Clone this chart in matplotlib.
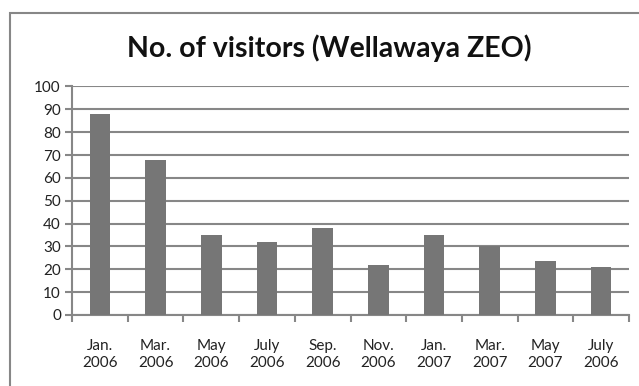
import matplotlib.pyplot as plt
from matplotlib.patches import Rectangle

# visitor counts per survey month
months = ["Jan.\n2006", "Mar.\n2006", "May\n2006", "July\n2006", "Sep.\n2006",
          "Nov.\n2006", "Jan.\n2007", "Mar.\n2007", "May\n2007", "July\n2006"]
visitors = [88, 68, 35, 32, 38, 22, 35, 30, 23.5, 21]

plt.rcParams['font.family'] = ['Lato', 'DejaVu Sans']
grey = '#878787'

fig = plt.figure(figsize=(6.39, 3.86), dpi=100)
ax = fig.add_axes([0.1127, 0.184, 0.8717, 0.592])

x = list(range(len(months)))
ax.bar(x, visitors, width=0.37, color='#767676', zorder=3)

ax.set_xlim(-0.5, len(months) - 0.5)
ax.set_ylim(0, 100)
ax.set_yticks(range(0, 101, 10))
ax.set_xticks(x)
ax.set_xticklabels(months, fontsize=11, color='#222222', linespacing=1.3)
ax.tick_params(axis='x', length=0, pad=17)
ax.tick_params(axis='y', length=5, width=1.5, color=grey, labelsize=11,
               labelcolor='#222222', pad=3)
# ticks sit on category boundaries
ax.set_xticks([i - 0.5 for i in range(len(months) + 1)], minor=True)
ax.tick_params(axis='x', which='minor', length=5, width=1.5, color=grey)

ax.grid(axis='y', color=grey, linewidth=1.5, zorder=0)
for side in ['top', 'right']:
    ax.spines[side].set_visible(False)
for side in ['left', 'bottom']:
    ax.spines[side].set_color(grey)
    ax.spines[side].set_linewidth(1.5)

fig.text(0.515, 0.875, "No. of visitors (Wellawaya ZEO)", ha='center', va='center',
         fontsize=20.5, fontweight='bold', color='#111111')

# chart frame
fig.patches.append(Rectangle((10 / 639, -0.1), 1.1, 1 - 13 / 386 + 0.1,
                             transform=fig.transFigure, fill=False,
                             edgecolor=grey, linewidth=1.5))

fig.savefig("out.png", dpi=100)
